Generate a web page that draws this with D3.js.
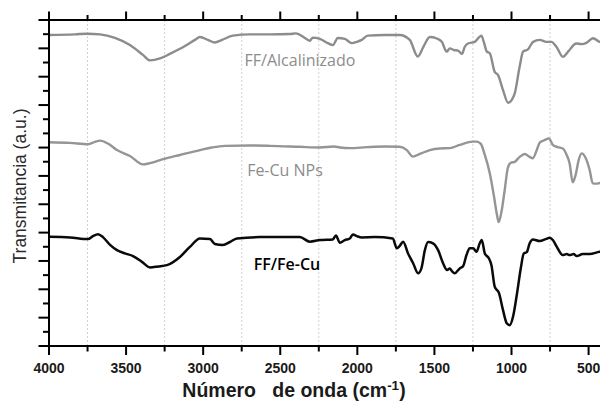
<!DOCTYPE html>
<html><head><meta charset="utf-8">
<script src="https://cdn.jsdelivr.net/npm/d3@7"></script>
<style>body{margin:0;background:#fff}svg{display:block}</style>
</head><body><svg id="c" width="600" height="402"></svg>
<script>
// wavenumber (cm-1)
const wavenumberTicks = [4000, 3500, 3000, 2500, 2000, 1500, 1000, 500];
const seriesNames = ["FF/Alcalinizado", "Fe-Cu NPs", "FF/Fe-Cu"];
// [wavenumber, transmittance (a.u.)]
const alcalinizado = [[4000,95.4],[3831,95.6],[3754,95.8],[3669,95.6],[3572,94.5],[3475,92.3],[3391,89.3],[3345,87.6],[3280,88.2],[3216,89.6],[3118,92.0],[3053,93.9],[3021,94.8],[2969,93.9],[2924,93.1],[2878,93.9],[2807,95.2],[2697,95.6],[2567,95.6],[2438,95.7],[2399,95.9],[2340,94.5],[2308,93.6],[2289,94.6],[2243,94.2],[2191,92.9],[2159,92.3],[2126,94.5],[2081,94.2],[2036,92.9],[2003,93.3],[1971,93.9],[1932,95.2],[1822,95.4],[1725,95.4],[1660,93.9],[1608,88.8],[1569,92.0],[1530,94.8],[1488,94.4],[1452,93.3],[1420,90.3],[1400,91.3],[1374,90.8],[1346,90.6],[1322,89.6],[1303,91.8],[1282,92.8],[1238,93.3],[1195,95.2],[1180,93.3],[1160,90.3],[1141,89.8],[1109,84.1],[1087,83.1],[1055,78.5],[1022,74.6],[998,75.5],[979,77.5],[947,85.7],[925,90.3],[893,91.0],[860,93.3],[817,93.9],[773,93.3],[741,93.3],[709,91.8],[666,88.7],[633,90.3],[579,92.8],[546,92.6],[514,93.0],[471,94.4],[428,93.3],[402,93.2]];
const feCuNPs = [[4000,62.5],[3864,62.3],[3747,61.9],[3702,62.6],[3669,63.0],[3618,62.1],[3559,60.1],[3475,58.3],[3391,55.7],[3345,56.1],[3261,57.3],[3151,58.6],[3021,60.1],[2943,60.9],[2859,61.4],[2697,61.5],[2567,61.4],[2373,61.1],[2243,60.9],[2152,61.2],[2113,60.9],[2049,60.7],[1938,61.0],[1822,61.2],[1725,61.1],[1679,60.1],[1640,58.1],[1595,58.9],[1530,60.1],[1465,60.6],[1400,60.7],[1336,61.7],[1251,62.7],[1225,62.7],[1199,62.0],[1173,58.6],[1141,53.0],[1115,46.3],[1096,40.7],[1083,38.0],[1063,41.7],[1044,47.9],[1024,54.6],[1005,56.2],[979,56.5],[947,58.0],[914,58.9],[882,58.0],[862,57.6],[836,60.1],[817,62.4],[784,63.2],[758,63.7],[732,61.7],[700,61.0],[668,60.6],[642,58.6],[623,56.0],[603,50.2],[584,52.5],[564,57.1],[545,59.1],[519,57.7],[493,54.0],[473,49.9],[447,49.8],[428,50.0],[402,50.0]];
const ffFeCu = [[4000,33.5],[3864,33.3],[3747,32.8],[3715,33.7],[3682,34.3],[3650,33.4],[3604,31.0],[3559,29.4],[3507,28.4],[3455,27.6],[3397,25.8],[3345,24.1],[3293,24.4],[3235,24.8],[3151,27.3],[3086,30.4],[3021,33.0],[2956,32.8],[2924,31.3],[2872,31.0],[2827,31.9],[2781,33.0],[2632,33.4],[2373,33.4],[2308,32.0],[2243,32.5],[2159,32.7],[2139,33.9],[2113,31.7],[2081,32.5],[2049,33.0],[2029,34.2],[2003,33.7],[1971,33.3],[1887,33.4],[1770,33.0],[1744,30.0],[1725,30.7],[1703,32.0],[1671,28.4],[1638,25.4],[1606,22.3],[1584,23.9],[1562,29.4],[1541,31.9],[1509,31.5],[1476,29.4],[1444,25.4],[1418,23.3],[1400,23.8],[1387,23.0],[1368,22.3],[1336,23.8],[1314,24.5],[1292,27.9],[1271,30.0],[1249,30.0],[1227,28.9],[1206,31.5],[1193,32.5],[1173,28.4],[1147,26.9],[1130,24.8],[1109,18.2],[1081,16.2],[1055,11.0],[1031,7.0],[1011,6.4],[990,9.0],[964,16.2],[940,23.8],[920,28.4],[901,28.8],[882,31.5],[862,32.7],[817,32.2],[778,32.8],[752,33.2],[732,32.5],[707,30.5],[668,27.9],[642,28.2],[623,27.9],[597,28.2],[577,27.6],[538,28.2],[493,28.2],[428,28.9],[402,29.0]];

const svg = d3.select("#c");
const L = 49, T = 20, B = 346;
const x = d3.scaleLinear().domain([4000, 400]).range([L, 604]);
const y = d3.scaleLinear().domain([0, 100]).range([B, T]);

const minor = d3.range(3750, 400, -500);
const allX = d3.range(4000, 400, -250);

// grid
svg.append("g").selectAll("line").data(minor).join("line")
  .attr("x1", d => x(d)).attr("x2", d => x(d)).attr("y1", T).attr("y2", B)
  .attr("stroke", "#d0d0d0").attr("stroke-width", 1).attr("stroke-dasharray", "2,2");

// curves
const line = d3.line().x(d => x(d[0])).y(d => y(d[1])).curve(d3.curveMonotoneX);
const series = [
  {data: alcalinizado, color: "#8c8c8c", w: 2.4},
  {data: feCuNPs, color: "#959595", w: 2.4},
  {data: ffFeCu, color: "#0a0a0a", w: 2.5}
];
svg.append("g").selectAll("path").data(series).join("path")
  .attr("d", d => line(d.data)).attr("fill", "none")
  .attr("stroke", d => d.color).attr("stroke-width", d => d.w)
  .attr("stroke-linejoin", "round");

// axes
const ax = svg.append("g").attr("stroke", "#000");
ax.append("line").attr("x1", L).attr("x2", 600).attr("y1", T).attr("y2", T).attr("stroke-width", 2);
ax.append("line").attr("x1", L).attr("x2", 600).attr("y1", B).attr("y2", B).attr("stroke-width", 2);
ax.append("line").attr("x1", L).attr("x2", L).attr("y1", T - 1).attr("y2", B + 1).attr("stroke-width", 2);
ax.selectAll(".tb").data(allX).join("line")
  .attr("x1", d => x(d)).attr("x2", d => x(d))
  .attr("y1", B).attr("y2", d => B + (d % 500 === 0 ? 9 : 5.5)).attr("stroke-width", 2);
ax.selectAll(".tt").data(allX).join("line")
  .attr("x1", d => x(d)).attr("x2", d => x(d))
  .attr("y1", T).attr("y2", d => T - (d % 500 === 0 ? 8.5 : 5)).attr("stroke-width", 2);
const yTickIdx = d3.range(0, 24);
const yMajor = new Set([0,2,4,6,8,10,12,14,17,19,21,23]);
const yt = d3.scaleLinear().domain([0, 23]).range([B, T]);
ax.selectAll(".tl").data(yTickIdx).join("line")
  .attr("y1", d => yt(d)).attr("y2", d => yt(d))
  .attr("x1", L).attr("x2", d => L - (yMajor.has(d) ? 10.5 : 6)).attr("stroke-width", 2);

svg.append("g").selectAll("text").data(wavenumberTicks).join("text")
  .attr("x", d => x(d)).attr("y", 372.5).attr("text-anchor", "middle")
  .attr("font-family", "Liberation Sans, Arial, sans-serif").attr("font-weight", "bold")
  .attr("font-size", 14).attr("fill", "#1a1a1a").text(d => d);

// x title
const xt = svg.append("text").attr("x", 294).attr("y", 397).attr("text-anchor", "middle")
  .attr("font-family", "Liberation Sans, Arial, sans-serif").attr("font-weight", "bold")
  .attr("font-size", 19.5).attr("fill", "#1a1a1a").attr("xml:space", "preserve");
xt.append("tspan").text("Número   de onda (cm");
xt.append("tspan").attr("font-size", 13.5).attr("dy", -7.5).text("-1");
xt.append("tspan").attr("dy", 7.5).text(")");

// y title
svg.append("text").attr("transform", "translate(26,186) rotate(-90)").attr("text-anchor", "middle")
  .attr("font-family", "Liberation Sans, Arial, sans-serif").attr("font-size", 17.5)
  .attr("fill", "#2a2a2a").text("Transmitancia (a.u.)");

// series labels
const labelPos = [[300, 66, "#8c8c8c", 400], [285, 176, "#8c8c8c", 400], [287, 270, "#000", 600]];
svg.append("g").selectAll("text").data(seriesNames).join("text")
  .attr("x", (d, i) => labelPos[i][0]).attr("y", (d, i) => labelPos[i][1])
  .attr("text-anchor", "middle").attr("font-family", "Open Sans, sans-serif")
  .attr("font-weight", (d, i) => labelPos[i][3])
  .attr("font-size", 16).attr("fill", (d, i) => labelPos[i][2]).text(d => d);
</script></body></html>
